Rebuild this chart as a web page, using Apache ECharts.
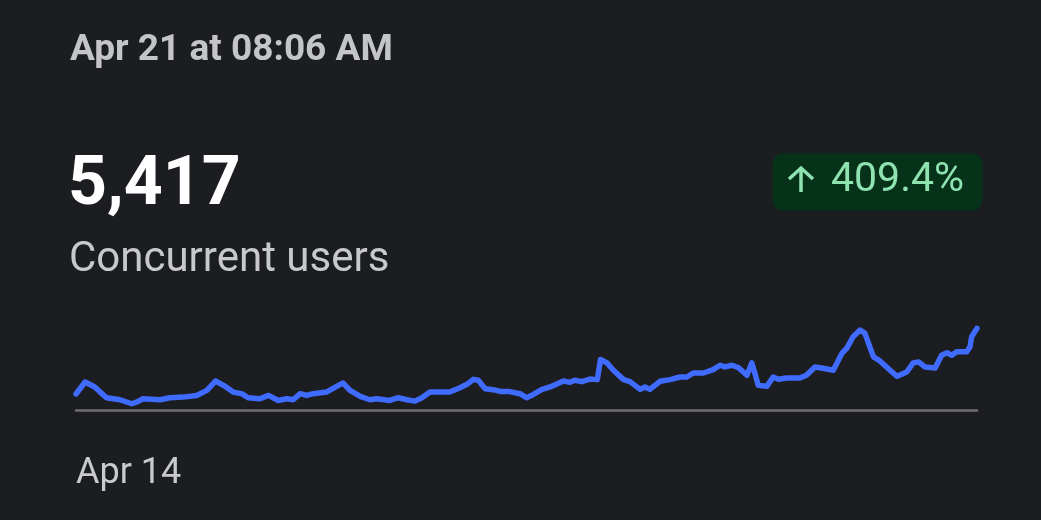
<!DOCTYPE html>
<html>
<head>
<meta charset="utf-8">
<script src="https://cdn.jsdelivr.net/npm/echarts@6/dist/echarts.min.js"></script>
<style>
html,body{margin:0;padding:0;background:#1c1d21;}
#c{width:1041px;height:520px;}
</style>
</head>
<body>
<div id="c"></div>
<script>
// Hours since start (Apr 14) and concurrent users
const hours = [0,1.7,3.5,4.5,5.7,8.2,10.4,11.3,12.5,15.7,17.5,20.0,22.5,24.4,26.0,27.5,29.3,30.9,32.1,34.3,35.9,37.7,39.3,40.5,41.8,43.0,44.2,46.7,48.6,49.8,51.1,53.0,54.8,
56.1,58.5,60.1,61.7,63.2,64.5,66.0,69.7,71.6,72.9,74.1,75.0,76.3,77.8,79.1,80.6,82.8,84.0,85.3,86.8,88.7,90.9,92.1,93.0,94.3,95.8,97.2,97.8,99.0,100.2,102.1,103.3,105.2,106.1,107.0,108.9,
110.8,112.6,113.9,115.1,117.0,118.8,120.1,121.0,122.3,123.5,125.1,126.0,126.6,127.2,128.8,130.0,131.0,132.5,135.0,136.2,137.8,139.3,141.2,142.8,143.7,144.9,146.2,147.1,148.7,149.9,151.8,153.1,154.9,156.1,157.1,158.3,160.2,161.4,162.4,163.3,164.2,166.1,166.7,167.0,168];
const users = [1063,1854,1521,1187,814,680,414,520,747,680,814,854,967,1301,1921,1634,1187,1081,814,747,967,634,747,680,1081,967,1081,1187,1567,1788,1301,900,680,
747,634,814,680,587,814,1187,1187,1481,1701,2034,1968,1414,1347,1234,1234,1081,814,1034,1347,1567,1921,1834,1968,1881,2054,2014,3348,3122,2635,2014,1881,1367,1521,1367,1901,
2014,2188,2188,2455,2455,2681,2968,2855,2968,2815,2301,3122,2415,1634,1567,2188,2034,2121,2121,2301,2855,2768,2635,3749,4082,4856,5303,5083,3522,3255,2635,2234,2521,3122,3188,2855,2788,3635,3789,3635,3855,3855,4189,4856,5417];
const xTickLabels = {0: 'Apr 14'};
const headerDate = 'Apr 21 at 08:06 AM';
const currentValue = '5,417';
const metricName = 'Concurrent users';
const changeText = '409.4%';

const seriesData = hours.map((h, i) => [h, users[i]]);

const chart = echarts.init(document.getElementById('c'));
const FONT = 'Roboto, "Noto Sans", sans-serif';
chart.setOption({
  backgroundColor: '#1c1d21',
  animation: false,
  grid: {left: 76, right: 64, top: 319.5, bottom: 110},
  xAxis: {
    type: 'value', min: 0, max: 168, interval: 168,
    axisLine: {show: true, lineStyle: {color: '#6f6f73', width: 2.5}},
    axisTick: {show: false},
    splitLine: {show: false},
    axisLabel: {
      show: true, showMaxLabel: false, align: 'left', margin: 46,
      color: '#c9cacd', fontSize: 36, fontFamily: FONT,
      formatter: v => xTickLabels[v] || ''
    }
  },
  yAxis: {
    type: 'value', min: 0, max: 6000,
    show: false
  },
  series: [{
    type: 'line',
    data: seriesData,
    showSymbol: false,
    lineStyle: {color: '#3f6bff', width: 5.5, join: 'round', cap: 'round'},
    z: 3
  }],
  graphic: [
    {type: 'text', left: 70, top: 32, style: {text: headerDate, fill: '#c4c5c9', font: 'bold 37px ' + FONT}},
    {type: 'text', left: 68, top: 153, style: {text: currentValue, fill: '#ffffff', font: 'bold 68px ' + FONT}},
    {type: 'text', left: 69, top: 239, style: {text: metricName, fill: '#c8c9cc', font: '42px ' + FONT}},
    {type: 'rect', shape: {x: 772.5, y: 153.5, width: 210, height: 57, r: 10}, style: {fill: '#053219'}},
    {type: 'group', children: [
      {type: 'polyline', shape: {points: [[789, 179], [801, 168], [813, 179]]}, style: {stroke: '#8fe3b0', lineWidth: 3.5, fill: null, lineJoin: 'miter'}},
      {type: 'line', shape: {x1: 801, y1: 169, x2: 801, y2: 192}, style: {stroke: '#8fe3b0', lineWidth: 3.5}}
    ]},
    {type: 'text', left: 831, top: 160, style: {text: changeText, fill: '#8fe3b0', font: '41px ' + FONT}}
  ]
});
</script>
</body>
</html>
